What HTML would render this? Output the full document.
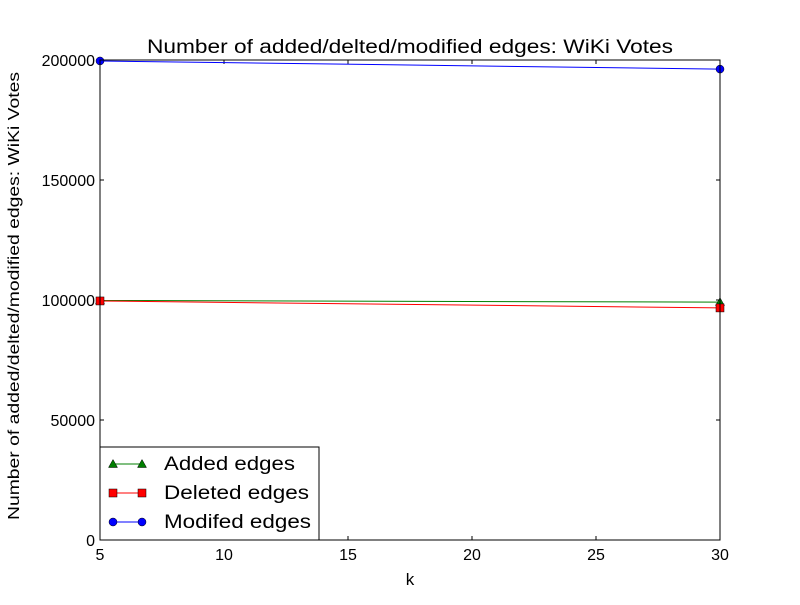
<!DOCTYPE html>
<html><head><meta charset="utf-8"><style>
body{margin:0;background:#fff;font-family:"Liberation Sans",sans-serif}
svg text{font-family:"Liberation Sans","DejaVu Sans",sans-serif}
</style></head><body>
<svg id="c" width="800" height="600"></svg>
<script>
const xs=[5,30];
const added=[99800,99100];
const deleted=[99600,96700];
const modified=[199600,196200];
const xTicks=[5,10,15,20,25,30];
const yTicks=[0,50000,100000,150000,200000];
const L=100,R=720,T=60,B=540;
const X=v=>L+(v-5)/25*(R-L), Y=v=>B-v/200000*(B-T);
const svg=document.getElementById('c');const NS='http://www.w3.org/2000/svg';
function mk(t,a,p){const e=document.createElementNS(NS,t);for(const k in a)e.setAttribute(k,a[k]);(p||svg).appendChild(e);return e;}
mk('rect',{x:0,y:0,width:800,height:600,fill:'#fff'});
xTicks.forEach(v=>{
mk('line',{x1:X(v),x2:X(v),y1:B,y2:B-4,stroke:'#000'});mk('line',{x1:X(v),x2:X(v),y1:T,y2:T+4,stroke:'#000'});
const t=mk('text',{x:X(v),y:B+20,'text-anchor':'middle','font-size':16});t.textContent=v;

});
yTicks.forEach(v=>{
mk('line',{x1:L,x2:L+4,y1:Y(v),y2:Y(v),stroke:'#000'});mk('line',{x1:R,x2:R-4,y1:Y(v),y2:Y(v),stroke:'#000'});
const t=mk('text',{x:L-5,y:Y(v)+6,'text-anchor':'end','font-size':16});t.textContent=v;

});
function series(d,c,m,name){
const g=mk('g',{});


mk('polyline',{points:xs.map((x,i)=>X(x)+','+Y(d[i])).join(' '),fill:'none',stroke:c,'stroke-width':1},g);
xs.forEach((x,i)=>marker(X(x),Y(d[i]),c,m,g));}
function marker(x,y,c,m,g){
if(m=='o')mk('circle',{cx:x,cy:y,r:4,fill:c,stroke:'#000','stroke-width':0.5},g);
else if(m=='s')mk('rect',{x:x-4,y:y-4,width:8,height:8,fill:c,stroke:'#000','stroke-width':0.5},g);
else mk('polygon',{points:`${x},${y-4.5} ${x+4.5},${y+3.5} ${x-4.5},${y+3.5}`,fill:c,stroke:'#000','stroke-width':0.5},g);}
series(added,'#007f00','^','series-added');
series(deleted,'#ff0000','s','series-deleted');
series(modified,'#0000ff','o','series-modified');
mk('rect',{x:L,y:T,width:R-L,height:B-T,fill:'none',stroke:'#000'});
const tt=mk('text',{x:147,y:53,'font-size':19,textLength:526,lengthAdjust:'spacingAndGlyphs'});tt.textContent='Number of added/delted/modified edges: WiKi Votes';

const xl=mk('text',{x:410,y:585,'text-anchor':'middle','font-size':17});xl.textContent='k';

const yl=mk('text',{x:0,y:0,'font-size':16,textLength:448,lengthAdjust:'spacingAndGlyphs',transform:'translate(19,520) rotate(-90)'});yl.textContent='Number of added/delted/modified edges: WiKi Votes';

const lg=mk('g',{});

mk('rect',{x:100,y:447,width:219,height:93,fill:'#fff',stroke:'#000'},lg);
[['Added edges','#007f00','^',131],['Deleted edges','#ff0000','s',145],['Modifed edges','#0000ff','o',147]].forEach((e,i)=>{
const y=464+i*29;
mk('line',{x1:113,x2:142,y1:y,y2:y,stroke:e[1]},lg);
marker(113,y,e[1],e[2],lg);marker(142,y,e[1],e[2],lg);
const t=mk('text',{x:164,y:y+6,'font-size':19,textLength:e[3],lengthAdjust:'spacingAndGlyphs'},lg);t.textContent=e[0];
});
</script>
</body></html>
